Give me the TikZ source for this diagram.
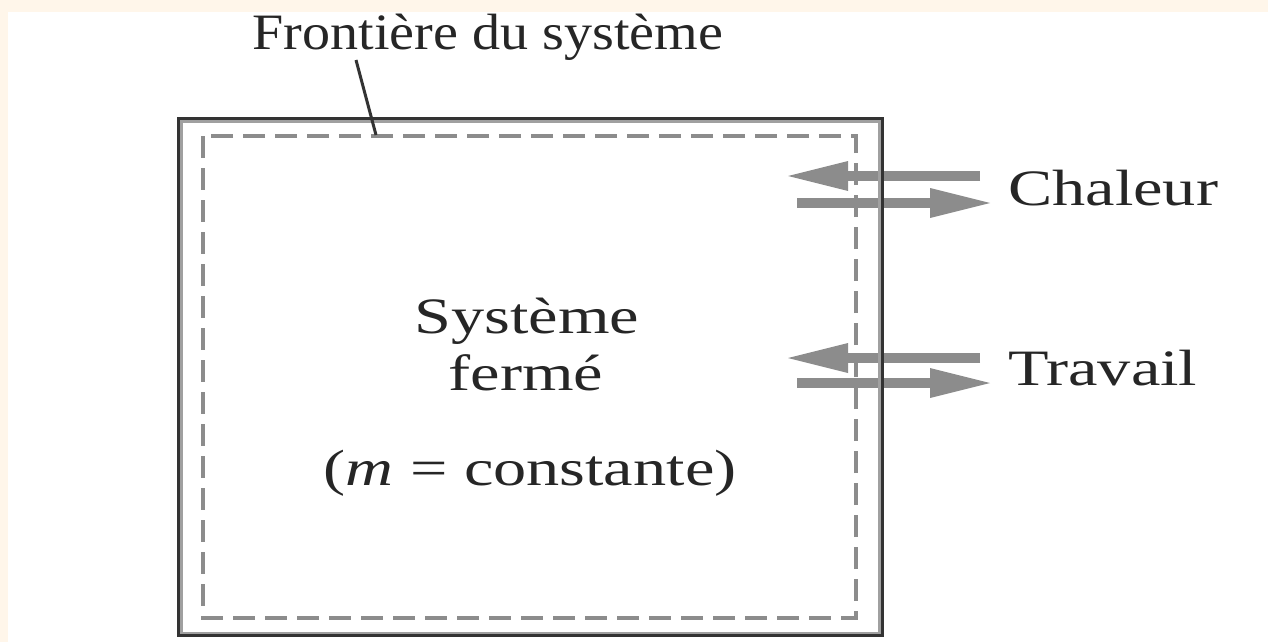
\documentclass[tikz,border=0pt]{standalone}
\usepackage{fontspec}
\usepackage{xcolor}
\usepackage{tikz}
\usetikzlibrary{arrows.meta}
\newfontfamily\labelfont[FakeStretch=1.3]{Liberation Serif}
\newfontfamily\titlefont[FakeStretch=1.1]{Liberation Serif}
\definecolor{paper}{RGB}{255, 246, 234}
\definecolor{framedark}{RGB}{51, 51, 51}
\definecolor{framegray}{RGB}{160, 160, 160}
\definecolor{flowgray}{RGB}{140, 140, 140}
\tikzstyle{annot} = [
    inner sep=0pt,
    anchor=base,
    text=black!85,
    font=\labelfont\fontsize{51}{60}\selectfont
]
\tikzstyle{flow} = [
    line width=10pt,
    color=flowgray,
    -{Triangle[length=60pt, width=30pt, line width=0pt]}
]
\tikzstyle{boundary} = [
    line width=4.5pt,
    color=flowgray,
    dash pattern=on 22pt off 10pt
]

\begin{document}
\begin{tikzpicture}[x=1pt, y=-1pt]
        % Page
        \fill[paper] (0, 0) rectangle (1268, 642);
        \fill[white] (8, 12) rectangle (1268, 642);
        \useasboundingbox (0, 0) rectangle (1268, 642);

        % Labels
        \node[annot, font=\titlefont\fontsize{51}{60}\selectfont] (frontiere) at (488, 50) {Frontière du système};
        \node[annot, anchor=base west] (chaleur) at (1008, 205) {Chaleur};
        \node[annot, anchor=base west] (travail) at (1008, 385) {Travail};
        \node[annot] (systeme) at (527, 333) {Système};
        \node[annot] (ferme) at (526, 390) {fermé};
        \node[annot] (masse) at (530, 485) {(\textit{m} = constante)};

        % Flow ends
        \coordinate (chalin) at (980, 176);
        \coordinate (chalintip) at (788, 176);
        \coordinate (chalout) at (797, 203);
        \coordinate (chalouttip) at (990, 203);
        \coordinate (travin) at (980, 358);
        \coordinate (travintip) at (788, 358);
        \coordinate (travout) at (797, 383);
        \coordinate (travouttip) at (990, 383);

        % Arrows
        \draw[flow] (chalin) -- (chalintip);
        \draw[flow] (chalout) -- (chalouttip);
        \draw[flow] (travin) -- (travintip);
        \draw[flow] (travout) -- (travouttip);

        % System
        \draw[boundary] (203, 136) rectangle (856, 618);
        \draw[framegray, line width=3pt] (181, 121) rectangle (879, 633);
        \draw[framedark, line width=3pt] (178.5, 118.5) rectangle (882.5, 635.5);

        % Leader
        \coordinate (leadtop) at (356, 60);
        \coordinate (leadbot) at (376, 135);
        \draw[framedark, line width=3pt] (leadtop) -- (leadbot);
    \end{tikzpicture}
\end{document}
